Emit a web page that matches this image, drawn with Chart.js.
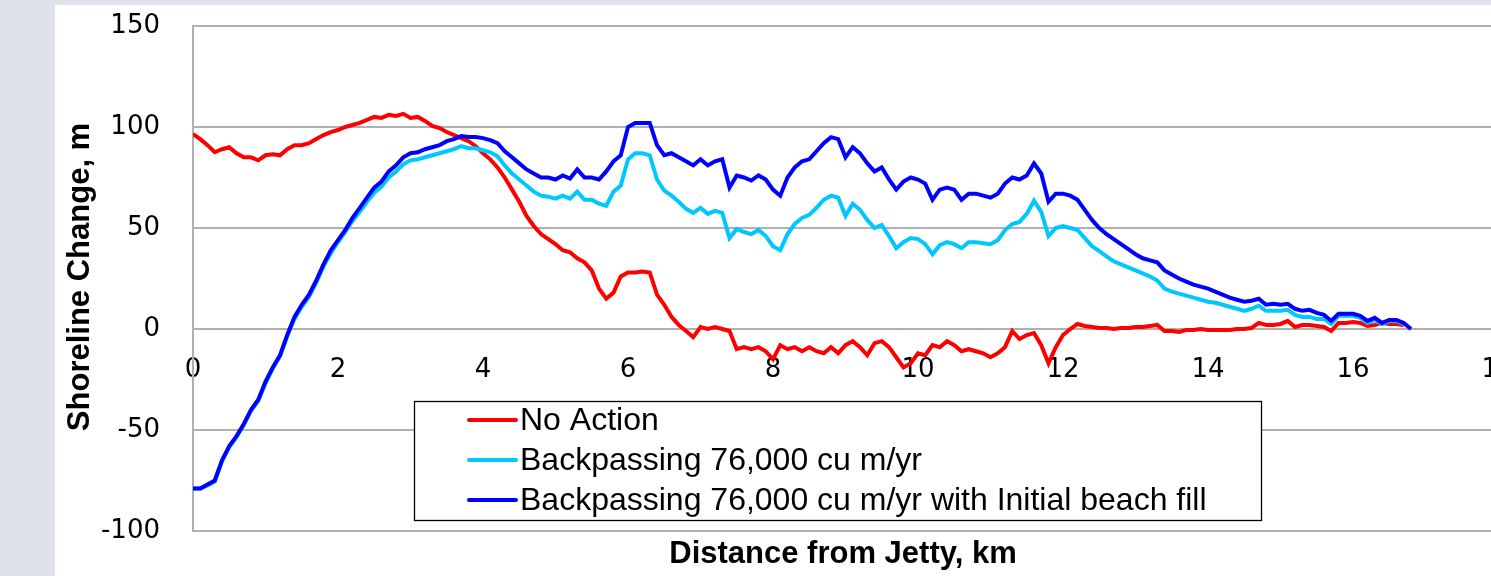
<!DOCTYPE html>
<html>
<head>
<meta charset="utf-8">
<script src="https://cdn.jsdelivr.net/npm/chart.js@4.4.1/dist/chart.umd.min.js"></script>
<style>
  html, body { margin: 0; padding: 0; width: 1491px; height: 576px; overflow: hidden; background: #dee3eb; }
  #wrap { position: absolute; left: 55px; top: 5px; width: 1460px; height: 571px; background: #ffffff; }
  canvas { display: block; }
</style>
</head>
<body>
<div id="wrap"><canvas id="c" width="1460" height="571"></canvas></div>
<script>
// Distance from jetty (km)
const km = [
  0.0,0.1,0.2,0.3,0.4,0.5,0.6,0.7,0.8,0.9,
  1.0,1.1,1.2,1.3,1.4,1.5,1.6,1.7,1.8,1.9,
  2.0,2.1,2.2,2.3,2.4,2.5,2.6,2.7,2.8,2.9,
  3.0,3.1,3.2,3.3,3.4,3.5,3.6,3.7,3.8,3.9,
  4.0,4.1,4.2,4.3,4.4,4.5,4.6,4.7,4.8,4.9,
  5.0,5.1,5.2,5.3,5.4,5.5,5.6,5.7,5.8,5.9,
  6.0,6.1,6.2,6.3,6.4,6.5,6.6,6.7,6.8,6.9,
  7.0,7.1,7.2,7.3,7.4,7.5,7.6,7.7,7.8,7.9,
  8.0,8.1,8.2,8.3,8.4,8.5,8.6,8.7,8.8,8.9,
  9.0,9.1,9.2,9.3,9.4,9.5,9.6,9.7,9.8,9.9,
  10.0,10.1,10.2,10.3,10.4,10.5,10.6,10.7,10.8,10.9,
  11.0,11.1,11.2,11.3,11.4,11.5,11.6,11.7,11.8,11.9,
  12.0,12.1,12.2,12.3,12.4,12.5,12.6,12.7,12.8,12.9,
  13.0,13.1,13.2,13.3,13.4,13.5,13.6,13.7,13.8,13.9,
  14.0,14.1,14.2,14.3,14.4,14.5,14.6,14.7,14.8,14.9,
  15.0,15.1,15.2,15.3,15.4,15.5,15.6,15.7,15.8,15.9,
  16.0,16.1,16.2,16.3,16.4,16.5,16.6,16.7,16.8
];

// Shoreline change (m)
const noAction = [
  96.5,94,91,87.5,89,90,87,85,85,83.5,
  86,86.5,86,89,91,91,92,94,96,97.5,
  98.5,100,101,102,103.5,105,104.5,106,105.5,106.5,
  104.5,105,103,100.5,99.5,97.5,96,94.5,93,90.5,
  87,84,80,75,69,63,56,51,47,44.5,
  42,39,38,35,33,29,20,15,18,26,
  28,28,28.5,28,17,12,6,2,-1,-4,
  1,0,1,0,-1,-10,-9,-10,-9,-11,
  -15,-8,-10,-9,-11,-9,-11,-12,-9,-12,
  -8,-6,-9,-13,-7,-6,-9,-14,-19,-17,
  -12,-13,-8,-9,-6,-8,-11,-10,-11,-12,
  -14,-12,-9,-1,-5,-3,-2,-8,-17,-9,
  -3,0,2.5,1.5,1,0.5,0.5,0,0.5,0.5,
  1,1,1.5,2,-1,-1,-1.5,-0.5,-0.5,0,
  -0.5,-0.5,-0.5,-0.5,0,0,0.5,3,2,2,
  2.5,4,1,2,2,1.5,1,-1,3,3,
  3.5,3,1.5,2,3,2.5,2.5,2,null
];

const backpassing = [
  -79,-79,-77.5,-75.5,-65.5,-58.5,-53.5,-47.5,-40.5,-35.5,
  -27,-19.5,-13.5,-3.5,5,11,16,23,31,37.5,
  43,48,53.5,58,63,67.5,70.5,75,78,81.5,
  83.5,84,85,86,87,88,89,90.5,89.5,89.5,
  88.5,87.5,85.5,81,77,74,71,68,66,65.5,
  64.5,66,64.5,68,64,64,62,61,68,71,
  84,87,87,86,74,68.5,66,63,59.5,57.5,
  60,57,58.5,57.5,45,49.5,48,47,49,46,
  41,39,47,52,55,56.5,60,64,66,65,
  56,62,59,54,50,51.5,46,40,43,45,
  44.5,42,37,41.5,43,42,40,43,43,42.5,
  42,44,49,52,53,57,63.5,58,46,50,
  51,50,49,45,41,38.5,36,33.5,32,30.5,
  29,27.5,26,24,20,18.5,17.5,16.5,15.5,14.5,
  13.5,13,12,11,10,9,10,11.5,9,9,
  9,9.5,7,6,6,5,5,2.5,6.5,6.5,
  6.5,5.5,3,4.5,2.5,4,4,2.5,null
];

const backpassingFill = [
  -79,-79,-77,-75,-65,-58,-53,-47,-40,-35,
  -26,-19,-13,-3,6,12,17,24,32,39,
  44,49,55,60,65,70,73,78,81,85,
  87,87.5,89,90,91,93,94,95.5,95,95,
  94.5,93.5,92,88,85,82,79,77,75,75,
  74,76,74.5,79,75,75,74,78,83,86,
  100,102,102,102,91,86,87,85,83,81,
  84,81,83,84,70,76,75,73.5,76,74,
  69,66,75,80,83,84,88,92,95,94,
  85,90,87,82,78,80,74,69,73,75,
  74,72,64,69,70,69,64,67,67,66,
  65,67,72,75,74,76,82,77,63,67,
  67,66,64,59,54,50,47,44.5,42,39.5,
  37,35,34,33,29,27,25,23.5,22,21,
  20,18.5,17,15.5,14.5,13.5,14,15,12,12.5,
  12,12.5,10,9,9.5,8,7,4,7.5,7.5,
  7.5,6.5,4,5.5,3,4.5,4.5,3,0
];

const seriesNames = ["No Action", "Backpassing 76,000 cu m/yr", "Backpassing 76,000 cu m/yr with Initial beach fill"];
const seriesColors = ["#ff0000", "#00c8ff", "#0000ff"];
const xTicks = [0, 2, 4, 6, 8, 10, 12, 14, 16, 18];
const yTicks = [-100, -50, 0, 50, 100, 150];
const xTitle = "Distance from Jetty, km";
const yTitle = "Shoreline Change, m";

function pts(arr) { return km.map((k, i) => ({ x: k, y: arr[i] })); }
const allSeries = [noAction, backpassing, backpassingFill];

const GRID = "#b0b0b0";

const legendAndTitles = {
  id: "legendAndTitles",
  afterDraw(chart) {
    const ctx = chart.ctx;
    ctx.save();
    // Legend box
    const L = 359, T = 396, R = 1206, B = 515;
    ctx.fillStyle = "#ffffff";
    ctx.fillRect(L, T, R - L, B - T);
    ctx.strokeStyle = "#000000";
    ctx.lineWidth = 1.3;
    ctx.strokeRect(L + 0.5, T + 0.5, R - L, B - T);
    const rows = [415, 455, 495];
    ctx.font = "32px 'Liberation Sans', Arial, sans-serif";
    ctx.textBaseline = "middle";
    ctx.textAlign = "left";
    seriesNames.forEach((name, i) => {
      ctx.strokeStyle = seriesColors[i];
      ctx.lineWidth = 4;
      ctx.lineCap = "round";
      ctx.beginPath();
      ctx.moveTo(414, rows[i]);
      ctx.lineTo(461, rows[i]);
      ctx.stroke();
      ctx.fillStyle = "#000000";
      ctx.fillText(name, 465, rows[i] + 1);
    });
    // Axis titles
    ctx.font = "bold 31px 'Liberation Sans', Arial, sans-serif";
    ctx.fillStyle = "#000000";
    ctx.textAlign = "center";
    ctx.textBaseline = "middle";
    ctx.fillText(xTitle, 788, 549);
    ctx.translate(25, 272);
    ctx.rotate(-Math.PI / 2);
    ctx.fillText(yTitle, 0, 0);
    ctx.restore();
  }
};

new Chart(document.getElementById("c"), {
  type: "line",
  data: {
    datasets: allSeries.map((arr, i) => ({
      label: seriesNames[i],
      data: pts(arr),
      borderColor: seriesColors[i],
      backgroundColor: seriesColors[i],
      borderWidth: 4,
      pointRadius: 0,
      tension: 0,
      spanGaps: false,
      order: 3 - i
    }))
  },
  options: {
    responsive: false,
    animation: false,
    layout: { padding: { left: 0, top: 21, right: 17, bottom: 45 } },
    plugins: { legend: { display: false }, tooltip: { enabled: false } },
    scales: {
      x: {
        type: "linear",
        position: { y: 0 },
        min: 0, max: 18,
        afterBuildTicks: (s) => { s.ticks = xTicks.map(v => ({ value: v })); },
        afterFit: (s) => { s.height = 0; s.paddingLeft = 0; s.paddingRight = 0; s.paddingTop = 0; s.paddingBottom = 0; },
        grid: { display: false, drawTicks: false },
        border: { display: true, color: GRID, width: 2 },
        ticks: {
          font: { family: "'DejaVu Sans'", size: 26 },
          color: "#000000",
          padding: 26,
          maxRotation: 0,
          autoSkip: false
        }
      },
      y: {
        type: "linear",
        min: -100, max: 150,
        afterBuildTicks: (s) => { s.ticks = yTicks.map(v => ({ value: v })); },
        afterFit: (s) => { s.width = 138; s.paddingTop = 0; s.paddingBottom = 0; },
        grid: { color: GRID, lineWidth: 2, drawTicks: false },
        border: { display: true, color: GRID, width: 2 },
        ticks: {
          font: { family: "'DejaVu Sans'", size: 26 },
          color: "#000000",
          padding: 33
        }
      }
    }
  },
  plugins: [legendAndTitles]
});
</script>
</body>
</html>
